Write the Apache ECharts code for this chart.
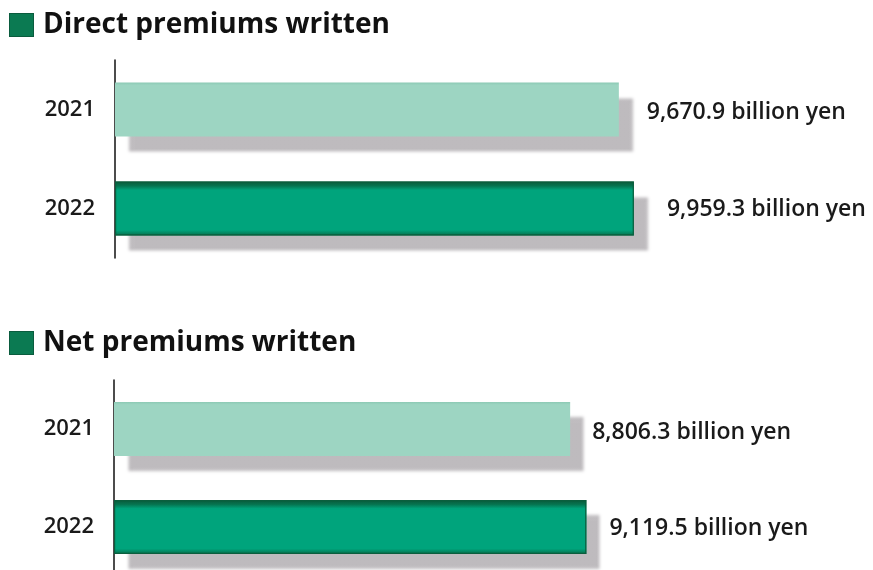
<!DOCTYPE html>
<html>
<head>
<meta charset="utf-8">
<style>
  html, body { margin: 0; padding: 0; background: #ffffff; }
  #chart { width: 873px; height: 570px; }
</style>
<script src="https://cdn.jsdelivr.net/npm/echarts@6/dist/echarts.min.js"></script>
</head>
<body>
<div id="chart"></div>
<script>
// Premiums written, fiscal years 2021 and 2022 (billion yen)
const years = ['2021', '2022'];
const directPremiums = [9670.9, 9959.3];
const netPremiums = [8806.3, 9119.5];
const panelTitles = ['Direct premiums written', 'Net premiums written'];
const unitText = 'billion yen';

const FONT = '"Open Sans", "Noto Sans", sans-serif';
const lightFill = {
  type: 'linear', x: 0, y: 0, x2: 0, y2: 1,
  colorStops: [
    { offset: 0, color: '#8cc9b4' },
    { offset: 0.05, color: '#9dd5c2' },
    { offset: 1, color: '#9dd5c2' }
  ]
};
const darkFill = {
  type: 'linear', x: 0, y: 0, x2: 0, y2: 1,
  colorStops: [
    { offset: 0, color: '#0a5a3a' },
    { offset: 0.08, color: '#06734f' },
    { offset: 0.16, color: '#00a47c' },
    { offset: 0.9, color: '#00a47c' },
    { offset: 1, color: '#07704c' }
  ]
};

function fmt(v) {
  return v.toLocaleString('en-US', { minimumFractionDigits: 1, maximumFractionDigits: 1 }) + ' ' + unitText;
}

// per-bar label gap to the right of the bar end
const labelGaps = [[28, 33], [22, 23]];

// filled bars carrying the drop shadow and the value label
function barItems(values, panel) {
  return values.map((v, i) => ({
    value: v,
    itemStyle: { color: i === 0 ? lightFill : darkFill },
    label: { distance: labelGaps[panel][i], offset: [0, i === 0 ? 3 : 1] }
  }));
}

// outline drawn over the same bars, without shadow
function edgeItems(values) {
  return values.map((v, i) => ({
    value: v,
    itemStyle: i === 0
      ? { color: 'transparent', borderWidth: 0 }
      : { color: 'transparent', borderColor: '#0b5e3d', borderWidth: 1.2 }
  }));
}

const chart = echarts.init(document.getElementById('chart'), null, { renderer: 'canvas' });

const grids = [
  { left: 115, top: 60, width: 521, height: 198, outerBoundsMode: 'none' },
  { left: 114, top: 380, width: 518, height: 196, outerBoundsMode: 'none' }
];

const panels = [directPremiums, netPremiums];

const option = {
  backgroundColor: '#ffffff',
  animation: false,
  title: panelTitles.map((t, k) => ({
    text: '{sq|}{t|' + t + '}',
    left: 10,
    top: k === 0 ? 11 : 329,
    padding: 0,
    textStyle: {
      rich: {
        sq: { width: 23, height: 22, backgroundColor: '#0b7a52', borderColor: '#0a5c3e', borderWidth: 1 },
        t: { fontFamily: FONT, fontWeight: 700, fontSize: 28, color: '#111111', padding: [0, 0, 0, 10] }
      }
    }
  })),
  grid: grids,
  xAxis: grids.map((g, k) => ({
    type: 'value', gridIndex: k, min: 0, max: 10000, show: false
  })),
  yAxis: grids.map((g, k) => ({
    type: 'category', gridIndex: k, data: years, inverse: true,
    axisLine: { show: true, lineStyle: { color: '#111111', width: 1.5 } },
    axisTick: { show: false },
    axisLabel: { margin: 20, fontFamily: FONT, fontWeight: 600, fontSize: 22, color: '#1a1a1a' }
  })),
  series: [].concat(...panels.map((vals, k) => ([
    {
      type: 'bar',
      xAxisIndex: k,
      yAxisIndex: k,
      barWidth: 54,
      barGap: '-100%',
      data: barItems(vals, k),
      itemStyle: {
        shadowColor: 'rgba(150,145,150,0.62)',
        shadowOffsetX: 14,
        shadowOffsetY: 15,
        shadowBlur: 3
      },
      label: {
        show: true,
        position: 'right',
        fontFamily: FONT,
        fontWeight: 600,
        fontSize: 23,
        color: '#1a1a1a',
        formatter: p => fmt(p.value)
      }
    },
    {
      type: 'bar',
      xAxisIndex: k,
      yAxisIndex: k,
      barWidth: 54,
      barGap: '-100%',
      silent: true,
      data: edgeItems(vals)
    }
  ])))
};

chart.setOption(option);
</script>
</body>
</html>
